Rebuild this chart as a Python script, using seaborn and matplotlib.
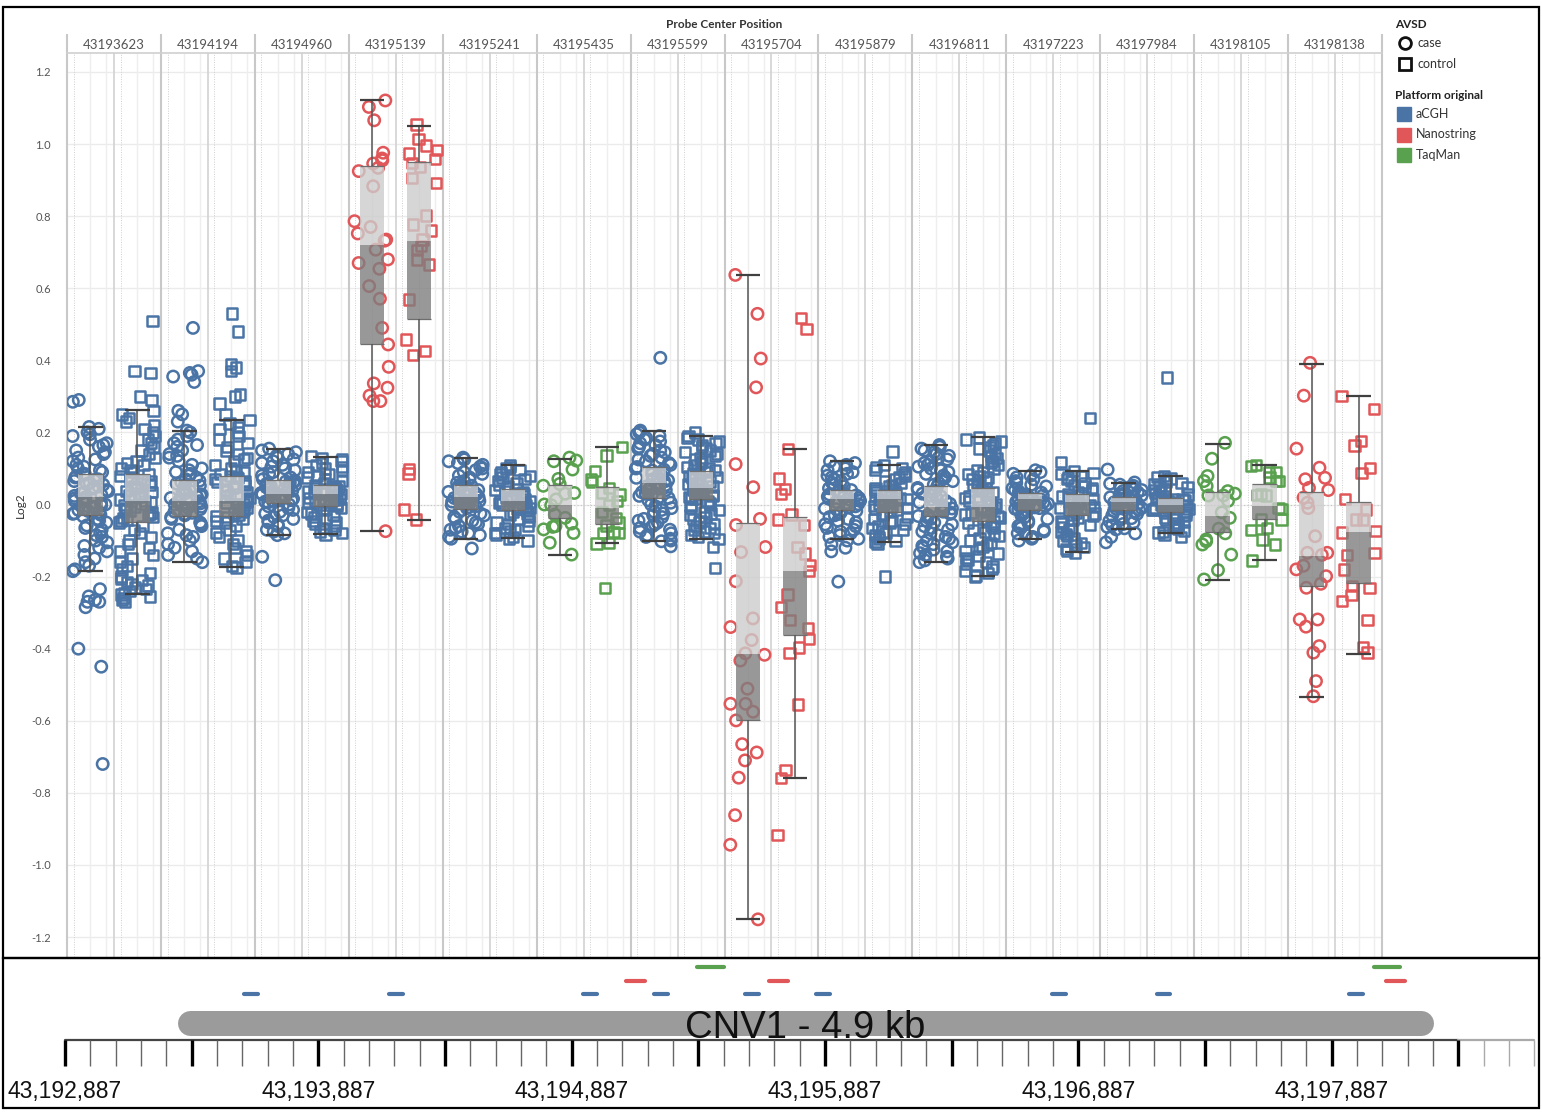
"""
Log2 por sonda (case x control) em facetas + trilha genômica da CNV1.
"""

import numpy as np
import pandas as pd
import matplotlib
matplotlib.use("Agg")
import matplotlib.pyplot as plt
from matplotlib.patches import Rectangle
import seaborn as sns

# ---------------- dados ----------------
probe_pos = [43193623, 43194194, 43194960, 43195139, 43195241, 43195435, 43195599,
             43195704, 43195879, 43196811, 43197223, 43197984, 43198105, 43198138]
probe_platform = ["aCGH", "aCGH", "aCGH", "Nanostring", "aCGH", "TaqMan", "aCGH",
                  "Nanostring", "aCGH", "aCGH", "aCGH", "aCGH", "TaqMan", "Nanostring"]
avsd_groups = ["case", "control"]
platform_names = ["aCGH", "Nanostring", "TaqMan"]
platform_colors = ["#4a74a5", "#e15759", "#59a14f"]
probe_len_bp = [55, 75, 105]

cnv_start, cnv_end = 43193330, 43198290
cnv_label = "CNV1 - 4.9 kb"
ruler_labels = [43192887, 43193887, 43194887, 43195887, 43196887, 43197887]
y_ticks = [1.2, 1.0, 0.8, 0.6, 0.4, 0.2, 0.0, -0.2, -0.4, -0.6, -0.8, -1.0, -1.2]

# valores Log2 lidos por sonda / grupo
p01_case = [0.29, 0.285, 0.215, 0.21, 0.2, 0.195, 0.19, 0.18, 0.17, 0.165, 0.16, 0.15, 0.145,
            0.14, 0.13, 0.125, 0.12, 0.11, 0.105, 0.1, 0.095, 0.09, 0.085, 0.082, 0.078, 0.075,
            0.07, 0.068, 0.065, 0.06, 0.057, 0.055, 0.05, 0.047, 0.044, 0.04, 0.037, 0.034, 0.03,
            0.027, 0.024, 0.02, 0.017, 0.014, 0.01, 0.007, 0.004, 0.0, -0.003, -0.006, -0.009,
            -0.012, -0.015, -0.018, -0.021, -0.024, -0.026, -0.028, -0.033, -0.04, -0.045, -0.05,
            -0.058, -0.065, -0.07, -0.078, -0.085, -0.09, -0.1, -0.105, -0.115, -0.12, -0.13,
            -0.14, -0.15, -0.16, -0.17, -0.18, -0.185, -0.235, -0.255, -0.265, -0.27, -0.27,
            -0.285, -0.40, -0.45, -0.72]
p01_ctrl = [0.51, 0.37, 0.365, 0.30, 0.29, 0.26, 0.25, 0.24, 0.23, 0.22, 0.21, 0.2, 0.19, 0.18,
            0.17, 0.16, 0.15, 0.14, 0.13, 0.12, 0.115, 0.11, 0.1, 0.095, 0.09, 0.085, 0.08,
            0.076, 0.072, 0.068, 0.064, 0.06, 0.055, 0.05, 0.046, 0.042, 0.038, 0.034, 0.03,
            0.026, 0.022, 0.018, 0.014, 0.01, 0.006, 0.002, -0.002, -0.006, -0.01, -0.014,
            -0.018, -0.022, -0.026, -0.03, -0.034, -0.038, -0.042, -0.046, -0.05, -0.06, -0.07,
            -0.08, -0.09, -0.1, -0.11, -0.12, -0.13, -0.14, -0.15, -0.16, -0.17, -0.18, -0.19,
            -0.2, -0.205, -0.21, -0.215, -0.22, -0.225, -0.23, -0.235, -0.24, -0.245, -0.25,
            -0.255, -0.26, -0.265, -0.27]
p02_case = [0.49, 0.37, 0.365, 0.36, 0.355, 0.34, 0.26, 0.25, 0.23, 0.205, 0.2, 0.19, 0.18,
            0.17, 0.165, 0.16, 0.15, 0.14, 0.135, 0.13, 0.12, 0.11, 0.1, 0.095, 0.09, 0.085,
            0.08, 0.075, 0.07, 0.066, 0.062, 0.058, 0.055, 0.052, 0.048, 0.045, 0.042, 0.038,
            0.035, 0.032, 0.028, 0.025, 0.022, 0.018, 0.015, 0.012, 0.009, 0.006, 0.003, 0.0,
            -0.003, -0.006, -0.01, -0.013, -0.016, -0.02, -0.023, -0.026, -0.03, -0.035, -0.04,
            -0.05, -0.055, -0.06, -0.07, -0.08, -0.085, -0.09, -0.1, -0.11, -0.12, -0.13, -0.14,
            -0.15, -0.16]
p02_ctrl = [0.53, 0.48, 0.39, 0.38, 0.37, 0.305, 0.3, 0.28, 0.25, 0.235, 0.225, 0.215, 0.21,
            0.2, 0.19, 0.18, 0.17, 0.16, 0.15, 0.14, 0.13, 0.125, 0.12, 0.11, 0.1, 0.095, 0.09,
            0.085, 0.08, 0.077, 0.073, 0.07, 0.066, 0.062, 0.058, 0.054, 0.05, 0.046, 0.042,
            0.038, 0.034, 0.03, 0.026, 0.022, 0.018, 0.014, 0.011, 0.008, 0.004, 0.0, -0.004,
            -0.008, -0.012, -0.016, -0.02, -0.024, -0.028, -0.031, -0.035, -0.04, -0.045, -0.05,
            -0.06, -0.07, -0.08, -0.09, -0.1, -0.11, -0.12, -0.13, -0.14, -0.15, -0.16, -0.17,
            -0.175]
p03_case = [0.155, 0.15, 0.145, 0.14, 0.135, 0.13, 0.125, 0.12, 0.115, 0.11, 0.105, 0.1, 0.095,
            0.09, 0.085, 0.08, 0.075, 0.07, 0.066, 0.064, 0.062, 0.06, 0.058, 0.056, 0.054,
            0.052, 0.05, 0.048, 0.046, 0.044, 0.042, 0.04, 0.038, 0.036, 0.034, 0.032, 0.03,
            0.028, 0.026, 0.024, 0.022, 0.02, 0.018, 0.016, 0.014, 0.012, 0.01, 0.008, 0.006,
            0.0, -0.005, -0.01, -0.015, -0.02, -0.025, -0.03, -0.035, -0.04, -0.045, -0.05,
            -0.055, -0.06, -0.07, -0.075, -0.08, -0.085, -0.145, -0.21]
p03_ctrl = [0.135, 0.13, 0.125, 0.12, 0.115, 0.11, 0.105, 0.1, 0.095, 0.09, 0.085, 0.08, 0.075,
            0.07, 0.065, 0.06, 0.055, 0.052, 0.05, 0.048, 0.046, 0.044, 0.042, 0.04, 0.038,
            0.036, 0.034, 0.032, 0.03, 0.028, 0.026, 0.024, 0.021, 0.018, 0.015, 0.012, 0.01,
            0.008, 0.006, 0.004, 0.002, 0.0, -0.002, -0.004, -0.008, -0.012, -0.016, -0.02,
            -0.025, -0.03, -0.035, -0.04, -0.045, -0.05, -0.055, -0.06, -0.065, -0.07, -0.075,
            -0.08, -0.083]
p04_case = [1.121, 1.103, 1.066, 0.976, 0.960, 0.955, 0.946, 0.934, 0.925, 0.883, 0.786, 0.770,
            0.752, 0.735, 0.732, 0.707, 0.680, 0.670, 0.654, 0.606, 0.571, 0.490, 0.444, 0.382,
            0.336, 0.324, 0.302, 0.287, 0.287, -0.074]
p04_ctrl = [1.054, 1.015, 0.996, 0.983, 0.974, 0.959, 0.948, 0.937, 0.906, 0.892, 0.802, 0.777,
            0.760, 0.735, 0.718, 0.707, 0.680, 0.666, 0.569, 0.458, 0.425, 0.414, 0.099, 0.086,
            -0.014, -0.042]
p05_case = [0.13, 0.125, 0.12, 0.115, 0.11, 0.105, 0.1, 0.095, 0.09, 0.085, 0.08, 0.075, 0.07,
            0.065, 0.06, 0.055, 0.052, 0.05, 0.048, 0.045, 0.042, 0.04, 0.038, 0.035, 0.032,
            0.03, 0.028, 0.025, 0.022, 0.02, 0.018, 0.015, 0.012, 0.01, 0.008, 0.005, 0.002, 0.0,
            -0.002, -0.005, -0.008, -0.01, -0.015, -0.02, -0.025, -0.03, -0.035, -0.04, -0.045,
            -0.05, -0.055, -0.06, -0.065, -0.07, -0.075, -0.08, -0.085, -0.09, -0.095, -0.122]
p05_ctrl = [0.11, 0.105, 0.1, 0.095, 0.09, 0.085, 0.08, 0.075, 0.07, 0.065, 0.06, 0.055, 0.05,
            0.046, 0.043, 0.04, 0.038, 0.035, 0.032, 0.03, 0.027, 0.024, 0.021, 0.018, 0.015,
            0.012, 0.01, 0.008, 0.005, 0.002, 0.0, -0.003, -0.006, -0.009, -0.012, -0.015, -0.02,
            -0.025, -0.03, -0.035, -0.04, -0.045, -0.05, -0.055, -0.06, -0.065, -0.07, -0.075,
            -0.08, -0.085, -0.09, -0.094, -0.1]
p06_case = [0.130, 0.122, 0.120, 0.097, 0.071, 0.057, 0.052, 0.032, 0.030, 0.014, 0.000, -0.002,
            -0.028, -0.037, -0.053, -0.060, -0.062, -0.069, -0.079, -0.106, -0.139]
p06_ctrl = [0.159, 0.136, 0.092, 0.069, 0.062, 0.046, 0.033, 0.028, 0.010, -0.002, -0.020,
            -0.037, -0.050, -0.058, -0.077, -0.080, -0.080, -0.106, -0.108, -0.231]
p07_case = [0.407, 0.205, 0.2, 0.195, 0.19, 0.185, 0.18, 0.175, 0.17, 0.165, 0.16, 0.155, 0.15,
            0.145, 0.14, 0.135, 0.13, 0.125, 0.12, 0.115, 0.11, 0.104, 0.1, 0.097, 0.094, 0.09,
            0.087, 0.084, 0.08, 0.077, 0.074, 0.07, 0.067, 0.064, 0.06, 0.057, 0.054, 0.05,
            0.047, 0.044, 0.04, 0.037, 0.034, 0.03, 0.027, 0.024, 0.02, 0.018, 0.012, 0.005, 0.0,
            -0.005, -0.01, -0.015, -0.02, -0.025, -0.03, -0.035, -0.04, -0.045, -0.05, -0.055,
            -0.06, -0.065, -0.07, -0.075, -0.08, -0.085, -0.09, -0.095, -0.1, -0.102, -0.116]
p07_ctrl = [0.2, 0.19, 0.185, 0.18, 0.175, 0.17, 0.165, 0.16, 0.155, 0.15, 0.145, 0.14, 0.135,
            0.13, 0.125, 0.12, 0.115, 0.11, 0.105, 0.1, 0.095, 0.09, 0.087, 0.084, 0.08, 0.077,
            0.074, 0.07, 0.067, 0.064, 0.06, 0.057, 0.054, 0.05, 0.047, 0.044, 0.04, 0.037,
            0.034, 0.03, 0.027, 0.024, 0.02, 0.017, 0.015, 0.01, 0.005, 0.0, -0.005, -0.01,
            -0.015, -0.02, -0.025, -0.03, -0.035, -0.04, -0.045, -0.05, -0.055, -0.06, -0.065,
            -0.07, -0.075, -0.08, -0.085, -0.09, -0.095, -0.117, -0.176]
p08_case = [0.637, 0.529, 0.405, 0.325, 0.112, 0.048, -0.040, -0.057, -0.118, -0.132, -0.213,
            -0.316, -0.340, -0.376, -0.413, -0.417, -0.433, -0.511, -0.553, -0.553, -0.575,
            -0.599, -0.665, -0.688, -0.710, -0.758, -0.862, -0.944, -1.151]
p08_ctrl = [0.517, 0.487, 0.153, 0.072, 0.044, 0.030, -0.028, -0.042, -0.057, -0.117, -0.136,
            -0.168, -0.184, -0.250, -0.285, -0.321, -0.343, -0.373, -0.397, -0.413, -0.555,
            -0.737, -0.758, -0.917]
p09_case = [0.12, 0.115, 0.11, 0.105, 0.1, 0.095, 0.09, 0.085, 0.08, 0.075, 0.07, 0.065, 0.06,
            0.055, 0.05, 0.045, 0.04, 0.037, 0.034, 0.031, 0.028, 0.025, 0.022, 0.02, 0.018,
            0.016, 0.014, 0.012, 0.01, 0.007, 0.004, 0.001, -0.002, -0.005, -0.008, -0.011,
            -0.013, -0.018, -0.022, -0.026, -0.03, -0.035, -0.04, -0.045, -0.05, -0.055, -0.06,
            -0.065, -0.07, -0.075, -0.08, -0.085, -0.09, -0.095, -0.1, -0.11, -0.12, -0.13,
            -0.214]
p09_ctrl = [0.147, 0.11, 0.105, 0.1, 0.095, 0.09, 0.085, 0.08, 0.075, 0.07, 0.065, 0.06, 0.055,
            0.05, 0.045, 0.04, 0.037, 0.034, 0.031, 0.028, 0.025, 0.022, 0.019, 0.016, 0.014,
            0.011, 0.008, 0.005, 0.002, -0.001, -0.004, -0.007, -0.01, -0.013, -0.016, -0.019,
            -0.025, -0.03, -0.035, -0.04, -0.045, -0.05, -0.055, -0.06, -0.065, -0.07, -0.075,
            -0.08, -0.085, -0.09, -0.095, -0.1, -0.105, -0.11, -0.2]
p10_case = [0.165, 0.16, 0.155, 0.15, 0.145, 0.14, 0.135, 0.13, 0.125, 0.12, 0.115, 0.11, 0.105,
            0.1, 0.095, 0.09, 0.085, 0.08, 0.075, 0.07, 0.065, 0.06, 0.055, 0.05, 0.046, 0.042,
            0.038, 0.034, 0.03, 0.026, 0.022, 0.018, 0.014, 0.01, 0.006, 0.002, -0.002, -0.005,
            -0.008, -0.011, -0.014, -0.017, -0.02, -0.023, -0.026, -0.029, -0.032, -0.036, -0.04,
            -0.045, -0.05, -0.055, -0.06, -0.065, -0.07, -0.075, -0.08, -0.085, -0.09, -0.095,
            -0.1, -0.105, -0.11, -0.115, -0.12, -0.125, -0.13, -0.135, -0.14, -0.145, -0.15,
            -0.155, -0.16]
p10_ctrl = [0.186, 0.18, 0.175, 0.17, 0.165, 0.16, 0.155, 0.15, 0.14, 0.135, 0.13, 0.12, 0.115,
            0.11, 0.1, 0.095, 0.09, 0.085, 0.08, 0.075, 0.07, 0.065, 0.06, 0.055, 0.05, 0.046,
            0.042, 0.038, 0.034, 0.03, 0.026, 0.022, 0.018, 0.014, 0.01, 0.006, 0.002, -0.002,
            -0.006, -0.008, -0.012, -0.016, -0.02, -0.024, -0.028, -0.032, -0.036, -0.04, -0.044,
            -0.047, -0.052, -0.058, -0.064, -0.07, -0.076, -0.082, -0.088, -0.094, -0.1, -0.106,
            -0.112, -0.118, -0.124, -0.13, -0.136, -0.142, -0.148, -0.154, -0.16, -0.166, -0.172,
            -0.178, -0.184, -0.19, -0.197, -0.2]
p11_case = [0.095, 0.09, 0.085, 0.08, 0.075, 0.07, 0.065, 0.06, 0.055, 0.05, 0.045, 0.04, 0.036,
            0.033, 0.031, 0.029, 0.027, 0.025, 0.023, 0.021, 0.019, 0.017, 0.015, 0.014, 0.012,
            0.01, 0.008, 0.006, 0.004, 0.002, 0.0, -0.002, -0.004, -0.006, -0.008, -0.01, -0.012,
            -0.014, -0.018, -0.022, -0.026, -0.03, -0.035, -0.04, -0.045, -0.05, -0.055, -0.06,
            -0.065, -0.07, -0.075, -0.08, -0.085, -0.09, -0.095, -0.1]
p11_ctrl = [0.239, 0.117, 0.092, 0.088, 0.084, 0.08, 0.075, 0.07, 0.065, 0.06, 0.055, 0.05,
            0.045, 0.04, 0.035, 0.03, 0.027, 0.024, 0.021, 0.018, 0.015, 0.012, 0.01, 0.008,
            0.005, 0.002, -0.001, -0.004, -0.007, -0.01, -0.013, -0.016, -0.019, -0.022, -0.025,
            -0.028, -0.032, -0.037, -0.042, -0.047, -0.052, -0.057, -0.062, -0.067, -0.072,
            -0.077, -0.082, -0.088, -0.094, -0.1, -0.106, -0.112, -0.118, -0.124, -0.13, -0.133]
p12_case = [0.097, 0.061, 0.058, 0.055, 0.052, 0.049, 0.046, 0.043, 0.04, 0.037, 0.034, 0.031,
            0.028, 0.025, 0.022, 0.02, 0.018, 0.016, 0.014, 0.012, 0.01, 0.008, 0.006, 0.004,
            0.002, 0.0, -0.002, -0.004, -0.006, -0.008, -0.01, -0.012, -0.014, -0.018, -0.022,
            -0.026, -0.03, -0.034, -0.038, -0.042, -0.046, -0.05, -0.054, -0.058, -0.062, -0.066,
            -0.069, -0.08, -0.09, -0.105]
p12_ctrl = [0.352, 0.08, 0.076, 0.072, 0.068, 0.064, 0.06, 0.056, 0.052, 0.048, 0.044, 0.04,
            0.036, 0.032, 0.028, 0.024, 0.02, 0.018, 0.016, 0.014, 0.012, 0.01, 0.008, 0.006,
            0.004, 0.002, 0.0, -0.002, -0.004, -0.006, -0.008, -0.01, -0.012, -0.014, -0.016,
            -0.018, -0.02, -0.024, -0.028, -0.032, -0.036, -0.04, -0.044, -0.048, -0.052, -0.056,
            -0.06, -0.064, -0.068, -0.072, -0.076, -0.078, -0.085, -0.09]
p13_case = [0.171, 0.127, 0.079, 0.065, 0.051, 0.037, 0.030, 0.025, 0.025, 0.010, -0.022,
            -0.037, -0.067, -0.080, -0.097, -0.102, -0.111, -0.139, -0.182, -0.208]
p13_ctrl = [0.109, 0.106, 0.090, 0.090, 0.075, 0.065, 0.065, 0.030, 0.026, 0.025, -0.009,
            -0.013, -0.042, -0.042, -0.065, -0.070, -0.097, -0.111, -0.155]
p14_case = [0.393, 0.302, 0.155, 0.102, 0.074, 0.070, 0.046, 0.040, 0.019, 0.005, -0.010,
            -0.088, -0.134, -0.134, -0.140, -0.170, -0.180, -0.199, -0.220, -0.231, -0.319,
            -0.319, -0.339, -0.393, -0.411, -0.490, -0.532]
p14_ctrl = [0.302, 0.264, 0.176, 0.164, 0.102, 0.088, 0.016, -0.014, -0.042, -0.042, -0.074,
            -0.078, -0.134, -0.140, -0.180, -0.227, -0.231, -0.252, -0.268, -0.321, -0.395, -0.411]

# estatísticas do boxplot (ordem: sonda1 case, sonda1 control, sonda2 case, ...)
box_hi = [0.216, 0.263, 0.205, 0.234, 0.155, 0.132, 1.121, 1.051, 0.129, 0.109, 0.127, 0.159,
          0.203, 0.190, 0.637, 0.153, 0.120, 0.110, 0.164, 0.186, 0.094, 0.092, 0.061, 0.080,
          0.168, 0.109, 0.391, 0.300]
box_q3 = [0.086, 0.086, 0.067, 0.079, 0.067, 0.053, 0.938, 0.950, 0.053, 0.044, 0.053, 0.049,
          0.105, 0.092, -0.052, -0.036, 0.040, 0.040, 0.050, 0.047, 0.033, 0.030, 0.022, 0.019,
          0.034, 0.058, 0.034, 0.007]
box_med = [0.020, 0.009, 0.011, 0.011, 0.030, 0.028, 0.719, 0.732, 0.020, 0.011, -0.002, -0.009,
           0.060, 0.046, -0.415, -0.184, 0.014, 0.014, -0.008, -0.008, 0.014, 0.008, 0.006, 0.000,
           -0.031, -0.005, -0.143, -0.076]
box_q1 = [-0.028, -0.048, -0.031, -0.031, 0.005, -0.005, 0.446, 0.515, -0.012, -0.016, -0.037,
          -0.053, 0.017, 0.014, -0.598, -0.362, -0.014, -0.020, -0.033, -0.047, -0.014, -0.028,
          -0.014, -0.020, -0.077, -0.039, -0.227, -0.219]
box_lo = [-0.185, -0.249, -0.160, -0.174, -0.085, -0.083, -0.074, -0.042, -0.097, -0.094, -0.139,
          -0.108, -0.102, -0.097, -1.151, -0.758, -0.097, -0.105, -0.160, -0.197, -0.097, -0.133,
          -0.069, -0.078, -0.210, -0.155, -0.534, -0.414]

values = [p01_case, p01_ctrl, p02_case, p02_ctrl, p03_case, p03_ctrl, p04_case, p04_ctrl,
          p05_case, p05_ctrl, p06_case, p06_ctrl, p07_case, p07_ctrl, p08_case, p08_ctrl,
          p09_case, p09_ctrl, p10_case, p10_ctrl, p11_case, p11_ctrl, p12_case, p12_ctrl,
          p13_case, p13_ctrl, p14_case, p14_ctrl]

rows = []
for k, vals in enumerate(values):
    i, g = divmod(k, 2)
    for v in vals:
        rows.append((f"{probe_pos[i]}|{avsd_groups[g]}", avsd_groups[g], probe_platform[i], v))
df = pd.DataFrame(rows, columns=["slot", "avsd", "platform", "log2"])
slots = [f"{p}|{g}" for p in probe_pos for g in avsd_groups]

# ---------------- figura ----------------
sns.set_style("white")
plt.rcParams["font.family"] = ["Lato", "DejaVu Sans"]

W, H = 1542, 1112
fig = plt.figure(figsize=(W / 100, H / 100), dpi=100)


def fx(px):
    return px / W


def fy(py):
    return 1 - py / H


# painel superior: área do gráfico em pixels 67..1382 x 53..957
x0, x1, yt, yb = 67, 1382, 53, 957
ax = fig.add_axes([fx(x0), fy(yb), fx(x1) - fx(x0), fy(yt) - fy(yb)])

px_per_unit = 360.5  # pixels por 1.0 de Log2
ytop = 1.2 + (72 - yt) / px_per_unit
ybot = -1.2 - (yb - 937) / px_per_unit

np.random.seed(11)
markers = {"case": ("o", 8.2), "control": ("s", 7.4)}
for plat, col in zip(platform_names, platform_colors):
    for g in avsd_groups:
        sub = df[(df["platform"] == plat) & (df["avsd"] == g)]
        if sub.empty:
            continue
        mk, sz = markers[g]
        n0 = len(ax.collections)
        sns.stripplot(data=sub, x="slot", y="log2", order=slots, ax=ax,
                      jitter=0.39, marker=mk, size=sz, color=col, zorder=3)
        for c in ax.collections[n0:]:
            c.set_facecolor("none")
            c.set_edgecolor(col)
            c.set_linewidth(1.8)

n = len(slots)
xs = np.arange(n)
hi, q3, med, q1, lo = (np.array(a) for a in (box_hi, box_q3, box_med, box_q1, box_lo))
bw = 0.52

# caixas em dois tons (mediana->Q3 claro, Q1->mediana escuro)
ax.bar(xs, q3 - med, bottom=med, width=bw, color="#cccccc", alpha=0.8, lw=0, zorder=4)
ax.bar(xs, med - q1, bottom=q1, width=bw, color="#7f7f7f", alpha=0.8, lw=0, zorder=4)
ax.hlines(np.r_[q3, q1], np.r_[xs, xs] - bw / 2, np.r_[xs, xs] + bw / 2,
          color="#6e6e6e", lw=0.9, zorder=4.5)
ax.vlines(xs, q3, hi, color="#555555", lw=1.1, zorder=5)
ax.vlines(xs, lo, q1, color="#555555", lw=1.1, zorder=5)
ax.hlines(np.r_[hi, lo], np.r_[xs, xs] - bw / 2, np.r_[xs, xs] + bw / 2,
          color="#404040", lw=1.6, zorder=5)

# grades
ax.hlines(y_ticks, -0.5, n - 0.5, color="#ebebeb", lw=1, zorder=0)
ax.axhline(0, color="#c4c4c4", ls=(0, (1, 2)), lw=0.8, zorder=1)
for i in range(n):
    ax.axvline(i - 0.36, color="#cfcfcf", ls=(0, (1, 1.5)), lw=0.7, zorder=0)
    ax.axvline(i, color="#eeeeee", lw=1, zorder=0)
    ax.axvline(i + 0.34, color="#eeeeee", lw=1, zorder=0)
ax.vlines(np.arange(0.5, n, 2), ybot, ytop, color="#d2d2d2", lw=1.2, zorder=1)
yhdr_top = 1.2 + (72 - 34) / px_per_unit
ax.vlines(np.arange(-0.5, n, 2), ybot, yhdr_top, color="#c8c8c8", lw=1.5,
          zorder=1, clip_on=False)

ax.set_xlim(-0.5, n - 0.5)
ax.set_ylim(ybot, ytop)
ax.set_xticks([])
ax.set_xlabel("")
ax.set_ylabel("")
ax.set_yticks(y_ticks, labels=[f"{v:.1f}" for v in y_ticks])
ax.tick_params(axis="y", length=0, pad=11.5, labelsize=8, labelcolor="#555555")
for s in ["left", "right", "bottom"]:
    ax.spines[s].set_visible(False)
ax.spines["top"].set_color("#d0d0d0")
ax.spines["top"].set_linewidth(1.2)

# cabeçalho das facetas
yhdr = 1.2 + (72 - 44.5) / px_per_unit
for f, p in enumerate(probe_pos):
    ax.text(2 * f + 0.5, yhdr, str(p), ha="center", va="center", fontsize=9.5,
            color="#555555")
ax.text((n - 1) / 2, 1.2 + (72 - 24) / px_per_unit, "Probe Center Position",
        ha="center", va="center", fontsize=8.5, fontweight="bold", color="#333333")
fig.text(fx(20), fy(505), "Log2", rotation=90, ha="center", va="center",
         fontsize=8.5, color="#333333")

# legenda (coordenadas em pixels)
lax = fig.add_axes([fx(1385), fy(175), fx(1540) - fx(1385), fy(10) - fy(175)])
lax.set_xlim(1385, 1540)
lax.set_ylim(175, 10)
lax.axis("off")
lax.text(1395, 24, "AVSD", fontsize=8.5, fontweight="bold", va="center", color="#222222")
for g, yy in zip(avsd_groups, [43, 63.5]):
    mk, _ = markers[g]
    lax.plot(1404.5, yy, marker=mk, ms=8.5 if mk == "o" else 8, mfc="none",
             mec="#111111", mew=2)
    lax.text(1417, yy, g, fontsize=9, va="center", color="#333333")
lax.text(1395, 95.5, "Platform original", fontsize=8.5, fontweight="bold",
         va="center", color="#222222")
for plat, col, yy in zip(platform_names, platform_colors, [114, 134.5, 155]):
    lax.add_patch(Rectangle((1397, yy - 7), 14, 14, color=col))
    lax.text(1416, yy, plat, fontsize=9, va="center", color="#333333")

# ---------------- trilha genômica ----------------
px_per_bp = 126.67 / 500
gx0 = ruler_labels[0] - (65 - 8) / px_per_bp
gx1 = ruler_labels[0] + (1538 - 65) / px_per_bp
ax2 = fig.add_axes([fx(8), fy(1106), fx(1538) - fx(8), fy(960) - fy(1106)])
ax2.set_xlim(gx0, gx1)
ax2.set_ylim(1106, 960)
ax2.axis("off")

track_y = [994.3, 981.3, 966.7]
for pos, plat in zip(probe_pos, probe_platform):
    k = platform_names.index(plat)
    L = probe_len_bp[k]
    ax2.plot([pos - L / 2, pos + L / 2], [track_y[k]] * 2, color=platform_colors[k],
             lw=3, solid_capstyle="round")

cap_bp = 12.5 / px_per_bp
ax2.plot([cnv_start + cap_bp, cnv_end - cap_bp], [1023.5, 1023.5], color="#9b9b9b",
         lw=18, solid_capstyle="round")
ax2.text((cnv_start + cnv_end) / 2, 1038, cnv_label, ha="center", va="baseline",
         fontsize=27.5, family="Liberation Sans", color="#111111")

ruler_end_dark = ruler_labels[-1] + 500
ruler_end = ruler_labels[-1] + 800
ax2.plot([ruler_labels[0], ruler_end_dark], [1040, 1040], color="#444444", lw=1.6)
ax2.plot([ruler_end_dark, ruler_end], [1040, 1040], color="#aaaaaa", lw=1.6)
ticks = np.arange(ruler_labels[0], ruler_end + 1, 100)
for k, t in enumerate(ticks):
    major = k % 5 == 0
    dark = t <= ruler_end_dark
    ax2.vlines(t, 1040, 1066, color=("#000000" if major else "#666666") if dark else "#aaaaaa",
               lw=2.4 if major else 1.0)
for v in ruler_labels:
    ax2.text(v, 1092, f"{v:,}", ha="center", va="center", fontsize=16.5,
             family="Liberation Sans", color="#111111")

# molduras
for (a, b, c, d) in [(3, 7, 1539, 958), (3, 958, 1539, 1108)]:
    fig.add_artist(Rectangle((fx(a), fy(d)), fx(c) - fx(a), fy(b) - fy(d),
                             transform=fig.transFigure, fill=False, ec="black", lw=1.6))

fig.savefig("out.png", dpi=100)
